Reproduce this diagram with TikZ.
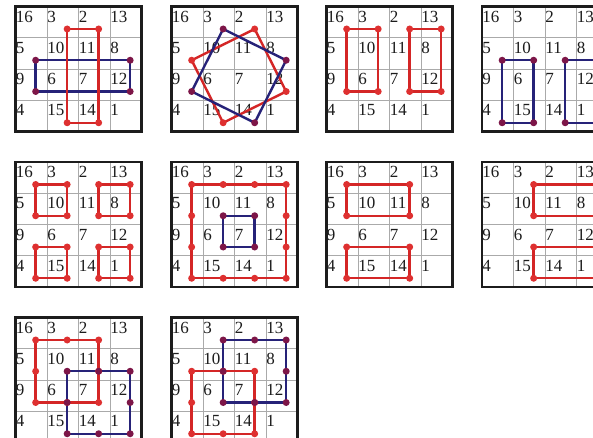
\documentclass[tikz,border=0pt]{standalone}
\usepackage{fontspec}
\setmainfont{Liberation Serif}
\definecolor{lred}{RGB}{212,38,38}
\definecolor{lblue}{RGB}{38,34,120}
\definecolor{dred}{RGB}{222,48,48}
\definecolor{dblue}{RGB}{125,22,72}
\definecolor{gridgray}{RGB}{170,170,170}
\definecolor{ink}{RGB}{28,28,28}
\tikzset{
  redline/.style={draw=lred, line width=2.4pt, line join=round},
  blueline/.style={draw=lblue, line width=2.4pt, line join=round},
  reddot/.style={fill=dred},
  bluedot/.style={fill=dblue},
  numtext/.style={anchor=north west, inner sep=0pt, font=\fontsize{17}{17}\selectfont, text=ink},
  thingrid/.style={draw=gridgray, line width=0.7pt},
  gridframe/.style={draw=ink, line width=2.8pt},
}
\newcommand\gcw{31.5}
\newcommand\gch{31.25}
\newcommand\magicgrid[3]{%
  \foreach \k in {1,2,3} {
    \draw[thingrid] ({#2+\k*\gcw},#3) -- ({#2+\k*\gcw},{#3+4*\gch});
    \draw[thingrid] (#2,{#3+\k*\gch}) -- ({#2+4*\gcw},{#3+\k*\gch});
  }
  \foreach \n [count=\i from 0] in {16,3,2,13,5,10,11,8,9,6,7,12,4,15,14,1} {
    \pgfmathtruncatemacro\cc{mod(\i,4)}
    \pgfmathtruncatemacro\rr{div(\i,4)}
    \node[numtext] (#1-n\i) at ({#2+\cc*\gcw+0.2},{#3+\rr*\gch+4.2}) {\n};
    \coordinate (#1-\cc-\rr) at ({#2+(\cc+0.64)*\gcw},{#3+(\rr+0.72)*\gch});
  }
  \draw[gridframe] (#2,#3) rectangle ({#2+4*\gcw},{#3+4*\gch});
}
\newcommand\rdots[1]{\foreach \p in {#1} {\fill[reddot] (\p) circle (3.5);}}
\newcommand\bdots[1]{\foreach \p in {#1} {\fill[bluedot] (\p) circle (3.5);}}
\begin{document}
\begin{tikzpicture}[x=1pt,y=-1pt]
\useasboundingbox (0,0) rectangle (593,438);
\clip (0,0) rectangle (593,438);
\fill[white] (0,0) rectangle (593,438);

% grid 1
\magicgrid{ga}{15.5}{6.5}
\draw[blueline] (ga-0-1) -- (ga-3-1) -- (ga-3-2) -- (ga-0-2) -- cycle;
\draw[redline] (ga-1-0) -- (ga-2-0) -- (ga-2-3) -- (ga-1-3) -- cycle;
\rdots{ga-1-0,ga-2-0,ga-2-3,ga-1-3}
\bdots{ga-0-1,ga-3-1,ga-3-2,ga-0-2}

% grid 2
\magicgrid{gb}{171.5}{6.5}
\draw[redline] (gb-0-1) -- (gb-2-0) -- (gb-3-2) -- (gb-1-3) -- cycle;
\draw[blueline] (gb-1-0) -- (gb-3-1) -- (gb-2-3) -- (gb-0-2) -- cycle;
\rdots{gb-0-1,gb-2-0,gb-3-2,gb-1-3}
\bdots{gb-1-0,gb-3-1,gb-2-3,gb-0-2}

% grid 3
\magicgrid{gc}{326.5}{6.5}
\draw[redline] (gc-0-0) -- (gc-1-0) -- (gc-1-2) -- (gc-0-2) -- cycle;
\draw[redline] (gc-2-0) -- (gc-3-0) -- (gc-3-2) -- (gc-2-2) -- cycle;
\rdots{gc-0-0,gc-1-0,gc-1-2,gc-0-2,gc-2-0,gc-3-0,gc-3-2,gc-2-2}

% grid 4
\magicgrid{gd}{482}{6.5}
\draw[blueline] (gd-0-1) -- (gd-1-1) -- (gd-1-3) -- (gd-0-3) -- cycle;
\draw[blueline] (gd-2-1) -- (gd-3-1) -- (gd-3-3) -- (gd-2-3) -- cycle;
\bdots{gd-0-1,gd-1-1,gd-1-3,gd-0-3,gd-2-1,gd-3-1,gd-3-3,gd-2-3}

% grid 5
\magicgrid{ge}{15.5}{162}
\draw[redline] (ge-0-0) -- (ge-1-0) -- (ge-1-1) -- (ge-0-1) -- cycle;
\draw[redline] (ge-2-0) -- (ge-3-0) -- (ge-3-1) -- (ge-2-1) -- cycle;
\draw[redline] (ge-0-2) -- (ge-1-2) -- (ge-1-3) -- (ge-0-3) -- cycle;
\draw[redline] (ge-2-2) -- (ge-3-2) -- (ge-3-3) -- (ge-2-3) -- cycle;
\rdots{ge-0-0,ge-1-0,ge-1-1,ge-0-1,ge-2-0,ge-3-0,ge-3-1,ge-2-1,ge-0-2,ge-1-2,ge-1-3,ge-0-3,ge-2-2,ge-3-2,ge-3-3,ge-2-3}

% grid 6
\magicgrid{gf}{171.5}{162}
\draw[redline] (gf-0-0) -- (gf-3-0) -- (gf-3-3) -- (gf-0-3) -- cycle;
\draw[blueline] (gf-1-1) -- (gf-2-1) -- (gf-2-2) -- (gf-1-2) -- cycle;
\rdots{gf-0-0,gf-1-0,gf-2-0,gf-3-0,gf-3-1,gf-3-2,gf-3-3,gf-2-3,gf-1-3,gf-0-3,gf-0-2,gf-0-1}
\bdots{gf-1-1,gf-2-1,gf-2-2,gf-1-2}

% grid 7
\magicgrid{gg}{326.5}{162}
\draw[redline] (gg-0-0) -- (gg-2-0) -- (gg-2-1) -- (gg-0-1) -- cycle;
\draw[redline] (gg-0-2) -- (gg-2-2) -- (gg-2-3) -- (gg-0-3) -- cycle;
\rdots{gg-0-0,gg-2-0,gg-2-1,gg-0-1,gg-0-2,gg-2-2,gg-2-3,gg-0-3}

% grid 8
\magicgrid{gh}{482}{162}
\draw[redline] (gh-1-0) -- (gh-3-0) -- (gh-3-1) -- (gh-1-1) -- cycle;
\draw[redline] (gh-1-2) -- (gh-3-2) -- (gh-3-3) -- (gh-1-3) -- cycle;
\rdots{gh-1-0,gh-3-0,gh-3-1,gh-1-1,gh-1-2,gh-3-2,gh-3-3,gh-1-3}

% grid 9
\magicgrid{gi}{15.5}{317.5}
\draw[redline] (gi-0-0) -- (gi-2-0) -- (gi-2-2) -- (gi-0-2) -- cycle;
\draw[blueline] (gi-1-1) -- (gi-3-1) -- (gi-3-3) -- (gi-1-3) -- cycle;
\rdots{gi-0-0,gi-1-0,gi-2-0,gi-2-1,gi-2-2,gi-1-2,gi-0-2,gi-0-1}
\bdots{gi-1-1,gi-2-1,gi-3-1,gi-3-2,gi-3-3,gi-2-3,gi-1-3,gi-1-2}

% grid 10
\magicgrid{gj}{171.5}{317.5}
\draw[redline] (gj-0-1) -- (gj-2-1) -- (gj-2-3) -- (gj-0-3) -- cycle;
\draw[blueline] (gj-1-0) -- (gj-3-0) -- (gj-3-2) -- (gj-1-2) -- cycle;
\rdots{gj-0-1,gj-1-1,gj-2-1,gj-2-2,gj-2-3,gj-1-3,gj-0-3,gj-0-2}
\bdots{gj-1-0,gj-2-0,gj-3-0,gj-3-1,gj-3-2,gj-2-2,gj-1-2,gj-1-1}
\end{tikzpicture}
\end{document}
